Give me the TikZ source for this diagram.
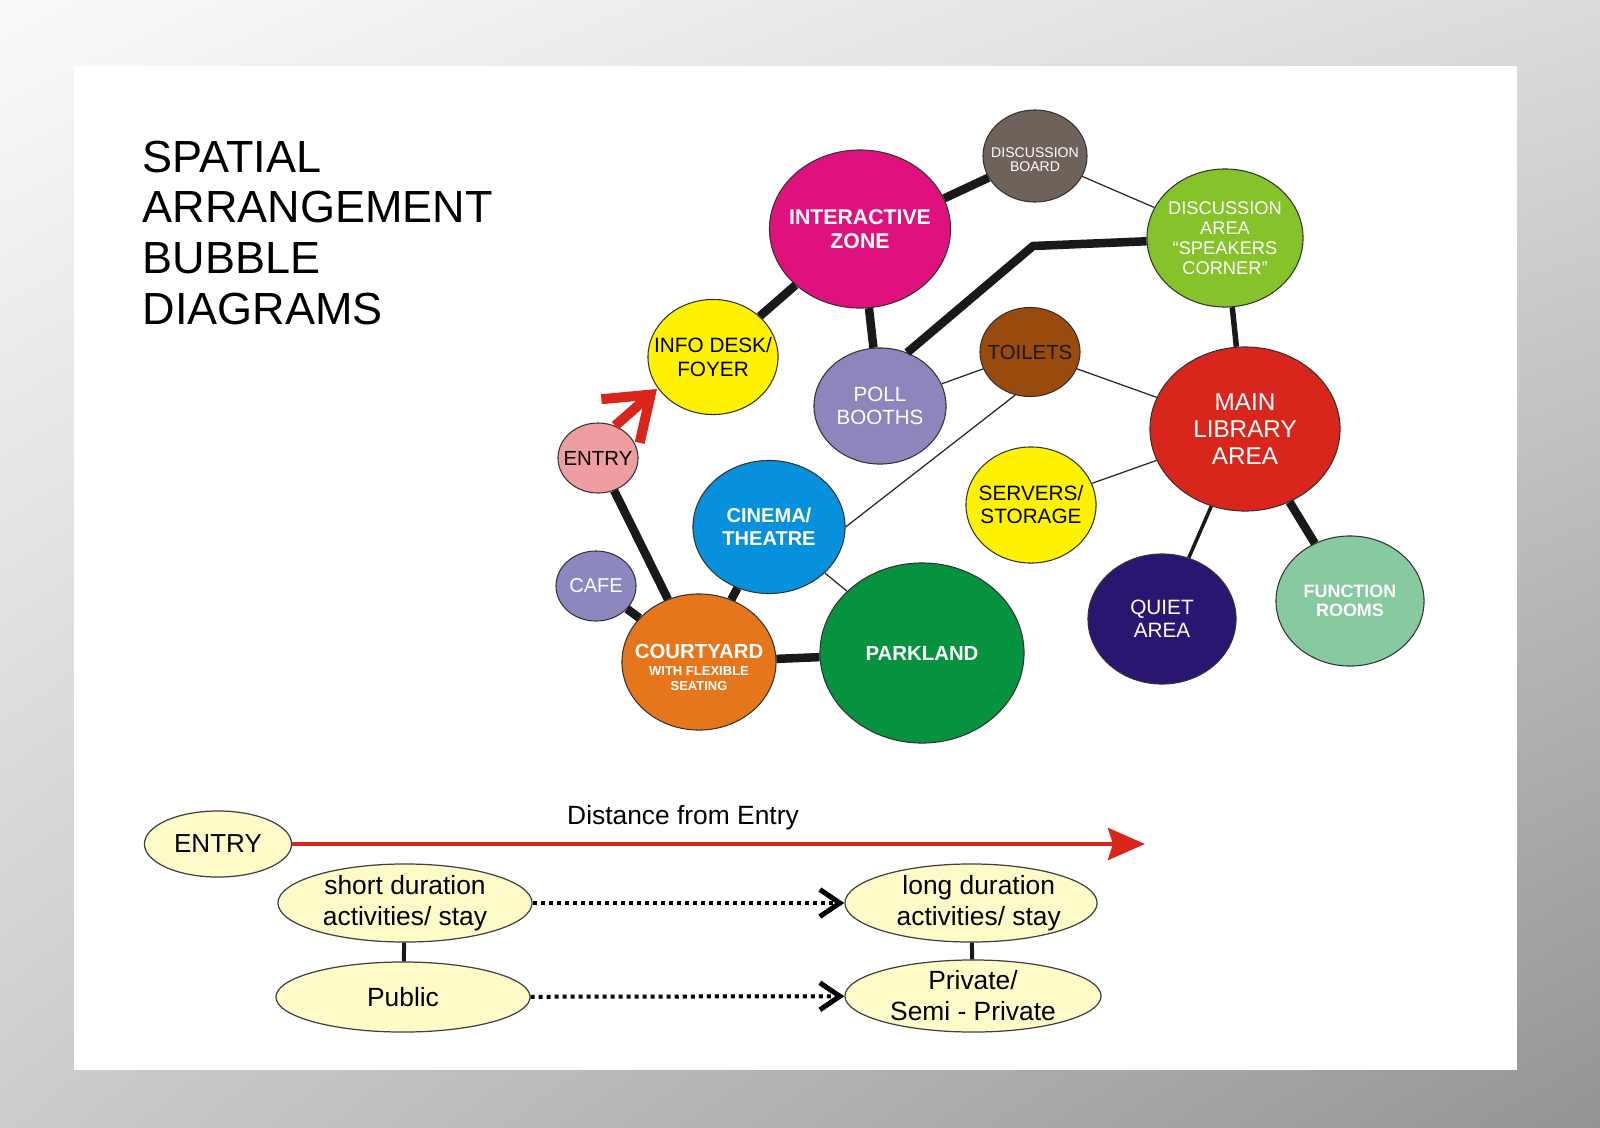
\documentclass[tikz,border=0pt]{standalone}
\usepackage{fontspec}
\setmainfont{Liberation Sans}
\usetikzlibrary{shapes.geometric,arrows.meta,shadings}

\definecolor{boardgrey}{HTML}{6E625B}
\definecolor{zonepink}{HTML}{DE117E}
\definecolor{areagreen}{HTML}{86C22A}
\definecolor{deskyellow}{HTML}{FFF200}
\definecolor{polllilac}{HTML}{8D86BD}
\definecolor{toiletbrown}{HTML}{994A0D}
\definecolor{libraryred}{HTML}{D8261D}
\definecolor{entrypink}{HTML}{EE9DA1}
\definecolor{cinemablue}{HTML}{0791DC}
\definecolor{cafelilac}{HTML}{8D87BF}
\definecolor{courtorange}{HTML}{E5761C}
\definecolor{parkgreen}{HTML}{06923F}
\definecolor{quietblue}{HTML}{2A1670}
\definecolor{roommint}{HTML}{88CAA0}
\definecolor{legendcream}{HTML}{FFFBC8}
\definecolor{arrowred}{HTML}{D9261C}

\newcommand{\bsz}[2]{\fontsize{#1}{#2}\selectfont}

\tikzset{
  bubble/.style={ellipse, draw=black!80, line width=0.3pt, inner sep=0pt},
  bsize/.style 2 args={minimum width=#1cm, minimum height=#2cm},
  btext/.style={align=center, text=white, inner sep=0pt},
  thickline/.style={line width=0.085cm, black!90},
  midline/.style={line width=0.035cm, black!90},
  thinline/.style={line width=0.35pt, black!85},
  legendbubble/.style={ellipse, draw=black!75, line width=0.35pt, fill=legendcream, inner sep=0pt},
  legendtext/.style={align=center, inner sep=0pt, font=\bsz{7.5}{8.8}},
}

\begin{document}
\begin{tikzpicture}[x=0.01cm, y=-0.01cm]
    \useasboundingbox (0,0) rectangle (1600,1127);
    % Background and sheet
    \shade[upper left=black!2, upper right=black!14, lower left=black!20, lower right=black!42] (0,0) rectangle (1600,1127);
    \fill[white] (74,66) rectangle (1517,1070);

    % Title
    \node[anchor=north west, align=left, inner sep=0pt, font=\bsz{12.8}{14.4}] (title) at (142,140) {SPATIAL\\ARRANGEMENT\\BUBBLE\\DIAGRAMS};

    % Draw bubbles
    \node[bubble, fill=boardgrey, bsize={1.04}{0.92}, label={[btext, font=\bsz{4.0}{4.1}, yshift=-1pt]center:DISCUSSION\\BOARD}] (board) at (1035,156) {};
    \node[bubble, fill=zonepink, bsize={1.81}{1.58}, label={[btext, font=\bsz{6.05}{6.9}\bfseries]center:INTERACTIVE\\ZONE}] (zone) at (860,229) {};
    \node[bubble, fill=areagreen, bsize={1.56}{1.38}, label={[btext, font=\bsz{5.2}{5.7}]center:DISCUSSION\\AREA\\“SPEAKERS\\CORNER”}] (speakers) at (1225,238) {};
    \node[bubble, fill=deskyellow, bsize={1.30}{1.15}, label={[btext, text=black, font=\bsz{5.9}{6.6}]center:INFO DESK/\\FOYER}] (desk) at (713,357) {};
    \node[bubble, fill=polllilac, bsize={1.32}{1.16}, label={[btext, font=\bsz{5.85}{6.5}]center:POLL\\BOOTHS}] (poll) at (880,406) {};
    \node[bubble, fill=toiletbrown, bsize={1.00}{0.89}, label={[btext, text=black!90, font=\bsz{5.8}{6.5}]center:TOILETS}] (toilets) at (1030,352) {};
    \node[bubble, fill=libraryred, bsize={1.90}{1.64}, label={[btext, font=\bsz{6.9}{7.7}]center:MAIN\\LIBRARY\\AREA}] (library) at (1245,429) {};
    \node[bubble, fill=entrypink, bsize={0.80}{0.70}, label={[btext, text=black, font=\bsz{5.8}{6.5}]center:ENTRY}] (entry) at (598,458) {};
    \node[bubble, fill=cinemablue, bsize={1.52}{1.33}, label={[btext, font=\bsz{5.7}{6.5}\bfseries]center:CINEMA/\\THEATRE}] (cinema) at (769,527) {};
    \node[bubble, fill=deskyellow, bsize={1.30}{1.16}, label={[btext, text=black, font=\bsz{5.9}{6.5}]center:SERVERS/\\STORAGE}] (servers) at (1031,505) {};
    \node[bubble, fill=cafelilac, bsize={0.80}{0.70}, label={[btext, font=\bsz{5.7}{6.5}]center:CAFE}] (cafe) at (596,586) {};
    \node[bubble, fill=courtorange, bsize={1.54}{1.36}, label={[btext, font=\bsz{3.7}{4.1}\bfseries, yshift=-1.5pt]center:{\bsz{5.8}{6.4}COURTYARD}\\[0.9pt]WITH FLEXIBLE\\SEATING}] (court) at (699,662) {};
    \node[bubble, fill=parkgreen, bsize={2.04}{1.80}, label={[btext, font=\bsz{5.8}{6.5}\bfseries]center:PARKLAND}] (park) at (922,653) {};
    \node[bubble, fill=quietblue, bsize={1.48}{1.30}, label={[btext, font=\bsz{5.9}{6.5}]center:QUIET\\AREA}] (quiet) at (1162,619) {};
    \node[bubble, fill=roommint, bsize={1.48}{1.30}, label={[btext, font=\bsz{5.1}{5.5}\bfseries]center:FUNCTION\\ROOMS}] (rooms) at (1350,601) {};

    % Draw links
    \draw[thickline] (zone.20) -- (board);
    \draw[thinline] (board) -- (speakers);
    \draw[thickline] (desk) -- (zone);
    \draw[thickline] (zone) -- (poll);
    \coordinate (bend) at (1033,246);
    \draw[thickline] (poll.63) -- (bend) -- (speakers);
    \draw[thinline] (poll) -- (toilets);
    \draw[thinline] (toilets) -- (library);
    \draw[thinline] (toilets.251) -- (cinema.0);
    \draw[line width=0.055cm, black!90] (speakers) -- (library);
    \draw[thinline] (servers) -- (library);
    \draw[midline] (library) -- (quiet);
    \draw[thickline] (library) -- (rooms);
    \draw[thickline] (entry) -- (court);
    \draw[thickline] (cafe) -- (court);
    \draw[thickline] (cinema) -- (court);
    \draw[thinline] (cinema) -- (park);
    \draw[thickline] (court) -- (park);

    % Entry arrow
    \coordinate (entrytip) at (657,389);
    \draw[arrowred, line width=0.1cm, -{Straight Barb[length=0.4cm, width=0.58cm]}] (entry.62) -- (entrytip);

    % Legend
    \node[legendbubble, bsize={1.47}{0.66}, label={[legendtext, font=\bsz{7.4}{8.8}]center:ENTRY}] (legentry) at (218,844) {};
    \node[legendbubble, bsize={2.54}{0.78}, label={[legendtext]center:short duration\\activities/ stay}] (short) at (405,903) {};
    \node[legendbubble, bsize={2.52}{0.78}, label={[legendtext, xshift=2.2pt]center:long duration\\activities/ stay}] (long) at (971,903) {};
    \node[legendbubble, bsize={2.54}{0.70}, label={[legendtext]center:Public}] (public) at (403,997) {};
    \node[legendbubble, bsize={2.56}{0.72}, label={[legendtext]center:Private/\\Semi - Private}] (private) at (973,996) {};

    \coordinate (farend) at (1145,844);
    \draw[arrowred, line width=0.045cm, -{Stealth[length=0.37cm, width=0.32cm, inset=0.05cm]}] (legentry) -- (farend);
    \node[anchor=base, inner sep=0pt, font=\bsz{7.5}{8.8}] (distance) at (683,824) {Distance from Entry};

    \draw[black, line width=0.04cm, dash pattern=on 0.04cm off 0.04cm, -{Straight Barb[length=0.2cm, width=0.27cm, line width=0.05cm]}] (short) -- (long);
    \draw[black, line width=0.04cm, dash pattern=on 0.04cm off 0.04cm, -{Straight Barb[length=0.2cm, width=0.27cm, line width=0.05cm]}] (public) -- (private);
    \draw[black!90, line width=0.04cm] (short) -- (public);
    \draw[black!90, line width=0.04cm] (long) -- (private);
\end{tikzpicture}
\end{document}
